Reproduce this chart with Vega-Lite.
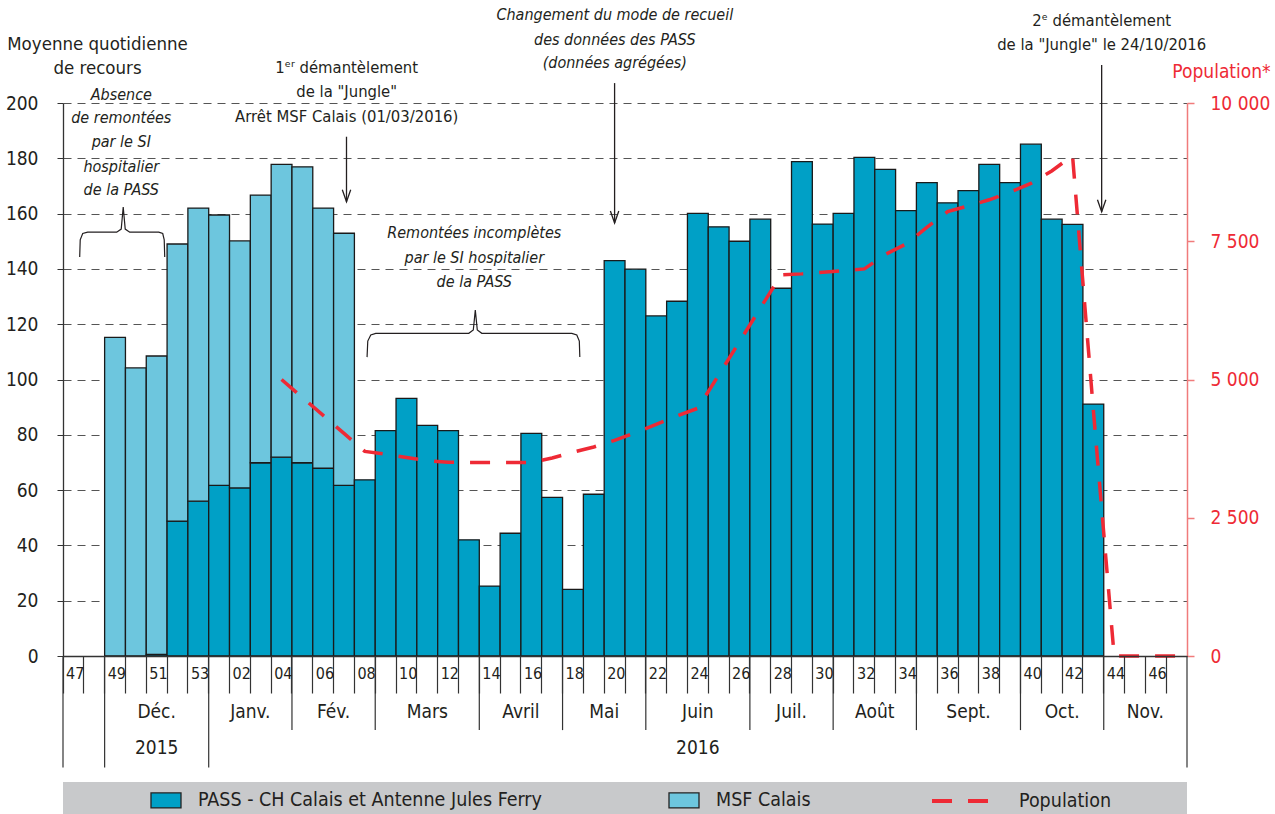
{
 "$schema": "https://vega.github.io/schema/vega-lite/v6.json",
 "width": 1124,
 "height": 553,
 "autosize": {"type": "none"},
 "padding": {"left": 63, "top": 103, "right": 88, "bottom": 158},
 "datasets": {
  "w": [
   {"k":"2015-47"},
   {"k":"2015-48"},
   {"k":"2015-49","msf":115.2},
   {"k":"2015-50","msf":104.2},
   {"k":"2015-51","pass":0.6,"msf":107.9},
   {"k":"2015-52","pass":48.8,"msf":100.2},
   {"k":"2015-53","pass":56.0,"msf":106.0},
   {"k":"2016-01","pass":61.7,"msf":97.8},
   {"k":"2016-02","pass":60.8,"msf":89.3},
   {"k":"2016-03","pass":69.9,"msf":96.8},
   {"k":"2016-04","pass":71.9,"msf":105.9,"pop":5000},
   {"k":"2016-05","pass":69.9,"msf":107.0,"pop":4675},
   {"k":"2016-06","pass":67.9,"msf":94.1,"pop":4350},
   {"k":"2016-07","pass":61.7,"msf":91.2,"pop":4025},
   {"k":"2016-08","pass":63.7,"pop":3700},
   {"k":"2016-09","pass":81.5,"pop":3650},
   {"k":"2016-10","pass":93.2,"pop":3590},
   {"k":"2016-11","pass":83.4,"pop":3530},
   {"k":"2016-12","pass":81.5,"pop":3505},
   {"k":"2016-13","pass":42.0,"pop":3500},
   {"k":"2016-14","pass":25.3,"pop":3500},
   {"k":"2016-15","pass":44.4,"pop":3500},
   {"k":"2016-16","pass":80.5,"pop":3500},
   {"k":"2016-17","pass":57.4,"pop":3580},
   {"k":"2016-18","pass":24.1,"pop":3685},
   {"k":"2016-19","pass":58.5,"pop":3780},
   {"k":"2016-20","pass":143.0,"pop":3900},
   {"k":"2016-21","pass":139.9,"pop":4040},
   {"k":"2016-22","pass":123.0,"pop":4190},
   {"k":"2016-23","pass":128.3,"pop":4340},
   {"k":"2016-24","pass":160.1,"pop":4480},
   {"k":"2016-25","pass":155.2,"pop":5080},
   {"k":"2016-26","pass":150.0,"pop":5685},
   {"k":"2016-27","pass":158.0,"pop":6290},
   {"k":"2016-28","pass":133.0,"pop":6890},
   {"k":"2016-29","pass":178.8,"pop":6910},
   {"k":"2016-30","pass":156.2,"pop":6940},
   {"k":"2016-31","pass":160.1,"pop":6970},
   {"k":"2016-32","pass":180.3,"pop":7000},
   {"k":"2016-33","pass":176.0,"pop":7260},
   {"k":"2016-34","pass":161.1,"pop":7450},
   {"k":"2016-35","pass":171.2,"pop":7750},
   {"k":"2016-36","pass":163.9,"pop":8035},
   {"k":"2016-37","pass":168.3,"pop":8140},
   {"k":"2016-38","pass":177.8,"pop":8250},
   {"k":"2016-39","pass":171.2,"pop":8390},
   {"k":"2016-40","pass":185.1,"pop":8545},
   {"k":"2016-41","pass":158.0,"pop":8770},
   {"k":"2016-42","pass":156.1,"pop":9050},
   {"k":"2016-43","pass":91.1,"pop":4450},
   {"k":"2016-44","pop":0},
   {"k":"2016-45","pop":0},
   {"k":"2016-46","pop":0},
   {"k":"2016-47","pop":0}
  ]
 },
 "layer": [
  {
   "data": {"name": "w"},
   "layer": [
    {
     "transform": [
      {"fold": ["pass", "msf"], "as": ["s", "v"]},
      {"filter": "isValid(datum.v)"}
     ],
     "mark": {"type": "bar", "stroke": "#1a1a1a", "strokeWidth": 1.3},
     "encoding": {
      "x": {
       "field": "k", "type": "ordinal",
       "scale": {"domain": ["2015-47","2015-48","2015-49","2015-50","2015-51","2015-52","2015-53","2016-01","2016-02","2016-03","2016-04","2016-05","2016-06","2016-07","2016-08","2016-09","2016-10","2016-11","2016-12","2016-13","2016-14","2016-15","2016-16","2016-17","2016-18","2016-19","2016-20","2016-21","2016-22","2016-23","2016-24","2016-25","2016-26","2016-27","2016-28","2016-29","2016-30","2016-31","2016-32","2016-33","2016-34","2016-35","2016-36","2016-37","2016-38","2016-39","2016-40","2016-41","2016-42","2016-43","2016-44","2016-45","2016-46","2016-47"], "paddingInner": 0, "paddingOuter": 0},
       "axis": {
        "orient": "bottom", "title": null, "bandPosition": 0, "zindex": 1,
        "tickSize": 37, "tickColor": "#333333", "tickWidth": 1.2,
        "domainColor": "#333333", "domainWidth": 1.3,
        "labelAlign": "left", "labelBaseline": "middle", "labelPadding": -20, "labelOffset": -7.4,
        "labelFontSize": 16, "labelColor": "#231f20", "labelAngle": 0,
        "labelOverlap": false, "labelFlush": false, "labelBound": false,
        "labelExpr": "((slice(datum.value,0,4) == '2015' && (+slice(datum.value,5)) % 2 == 1) || (slice(datum.value,0,4) == '2016' && (+slice(datum.value,5)) % 2 == 0)) ? slice(datum.value,5) : ''"
       }
      },
      "y": {
       "field": "v", "type": "quantitative", "stack": "zero",
       "scale": {"domain": [0, 200], "nice": false},
       "axis": {
        "orient": "left", "values": [0,20,40,60,80,100,120,140,160,180,200],
        "grid": true, "gridDash": [8, 6], "gridColor": "#555555", "gridWidth": 1.2,
        "tickSize": 6, "tickColor": "#333333", "domainColor": "#333333", "domainWidth": 1.3,
        "labelFontSize": 19, "labelColor": "#231f20", "labelPadding": 19,
        "title": ["Moyenne quotidienne", "de recours"],
        "titleAngle": 0, "titleAlign": "center", "titleBaseline": "top",
        "titleX": 34, "titleY": -69, "titleFontSize": 18.5, "titleFontWeight": "normal",
        "titleColor": "#231f20", "titleLineHeight": 24
       }
      },
      "color": {
       "field": "s", "type": "nominal",
       "scale": {"domain": ["pass", "msf"], "range": ["#00a0c6", "#6dc6de"]},
       "legend": {
        "orient": "none", "legendX": 87, "legendY": 681, "direction": "horizontal",
        "title": null, "padding": 0,
        "labelFontSize": 19.5, "labelColor": "#231f20", "labelOffset": 16, "labelLimit": 600,
        "symbolType": "M-1,-0.5H1V0.5H-1Z", "symbolSize": 900, "symbolStrokeColor": "#222222",
        "symbolStrokeWidth": 1.3, "symbolOpacity": 1, "columnPadding": 124,
        "labelExpr": "datum.value == 'pass' ? 'PASS - CH Calais et Antenne Jules Ferry' : 'MSF Calais'"
       }
      },
      "order": {"field": "s", "sort": "descending"}
     }
    },
    {
     "transform": [{"filter": "isValid(datum.pop)"}],
     "mark": {"type": "line", "color": "#ee2a35", "strokeWidth": 3.5},
     "encoding": {
      "x": {
       "field": "k", "type": "ordinal", "title": null,
       "scale": {"domain": ["2015-47","2015-48","2015-49","2015-50","2015-51","2015-52","2015-53","2016-01","2016-02","2016-03","2016-04","2016-05","2016-06","2016-07","2016-08","2016-09","2016-10","2016-11","2016-12","2016-13","2016-14","2016-15","2016-16","2016-17","2016-18","2016-19","2016-20","2016-21","2016-22","2016-23","2016-24","2016-25","2016-26","2016-27","2016-28","2016-29","2016-30","2016-31","2016-32","2016-33","2016-34","2016-35","2016-36","2016-37","2016-38","2016-39","2016-40","2016-41","2016-42","2016-43","2016-44","2016-45","2016-46","2016-47"], "paddingInner": 0, "paddingOuter": 0}
      },
      "y": {
       "field": "pop", "type": "quantitative",
       "scale": {"domain": [0, 10000], "nice": false},
       "axis": {
        "orient": "right", "values": [0, 2500, 5000, 7500, 10000],
        "labelExpr": "replace(format(datum.value, ','), ',', ' ')",
        "labelColor": "#ee2a35", "labelFontSize": 19, "labelAlign": "left", "labelPadding": 16,
        "tickSize": 7, "tickColor": "#f07b7b", "domainColor": "#f07b7b", "domainWidth": 1.5, "tickWidth": 1.5,
        "grid": false,
        "title": "Population*", "titleColor": "#ee2a35", "titleAngle": 0,
        "titleX": 34, "titleY": -32, "titleAlign": "center", "titleBaseline": "middle",
        "titleFontSize": 19, "titleFontWeight": "normal"
       }
      },
      "strokeDash": {
       "datum": "Population", "type": "nominal",
       "scale": {"domain": ["Population"], "range": [[20, 16]]},
       "legend": {
        "orient": "none", "legendX": 867, "legendY": 667.5, "title": null, "padding": 0,
        "labelFontSize": 19.5, "labelColor": "#231f20", "labelOffset": 28,
        "symbolType": "stroke", "symbolSize": 3249, "symbolStrokeWidth": 4,
        "symbolStrokeColor": "#ee2a35", "symbolOpacity": 1
       }
      }
     }
    }
   ],
   "resolve": {"scale": {"y": "independent"}}
  },
  {
   "layer": [
    {
     "data": {"values": [{}]},
     "mark": {"type": "rect", "color": "#c8c9cb"},
     "encoding": {
      "x": {"datum": 0, "type": "quantitative", "scale": {"domain": [0, 54], "nice": false, "zero": false}, "axis": null},
      "x2": {"datum": 54},
      "y": {"datum": -45.6, "type": "quantitative", "scale": {"domain": [0, 200], "nice": false, "zero": false}, "axis": null},
      "y2": {"datum": -60}
     }
    },
    {
     "data": {"values": [{"x": 0}, {"x": 2}, {"x": 7}, {"x": 54}]},
     "mark": {"type": "rule", "color": "#333333", "strokeWidth": 1.2},
     "encoding": {
      "x": {"field": "x", "type": "quantitative", "scale": {"domain": [0, 54], "nice": false, "zero": false}, "axis": null},
      "y": {"datum": 0, "type": "quantitative", "scale": {"domain": [0, 200], "nice": false, "zero": false}, "axis": null},
      "y2": {"datum": -40.3}
     }
    },
    {
     "data": {"values": [{"x": 11}, {"x": 15}, {"x": 20}, {"x": 24}, {"x": 28}, {"x": 33}, {"x": 37}, {"x": 41}, {"x": 46}, {"x": 50}]},
     "mark": {"type": "rule", "color": "#333333", "strokeWidth": 1.2},
     "encoding": {
      "x": {"field": "x", "type": "quantitative", "scale": {"domain": [0, 54], "nice": false, "zero": false}, "axis": null},
      "y": {"datum": 0, "type": "quantitative", "scale": {"domain": [0, 200], "nice": false, "zero": false}, "axis": null},
      "y2": {"datum": -26.8}
     }
    },
    {
     "data": {"values": [
      {"x": 4.5, "t": "Déc."}, {"x": 9, "t": "Janv."}, {"x": 13, "t": "Fév."}, {"x": 17.5, "t": "Mars"},
      {"x": 22, "t": "Avril"}, {"x": 26, "t": "Mai"}, {"x": 30.5, "t": "Juin"}, {"x": 35, "t": "Juil."},
      {"x": 39, "t": "Août"}, {"x": 43.5, "t": "Sept."}, {"x": 48, "t": "Oct."}, {"x": 52, "t": "Nov."}
     ]},
     "mark": {"type": "text", "fontSize": 19, "color": "#231f20", "align": "center", "baseline": "middle"},
     "encoding": {
      "x": {"field": "x", "type": "quantitative", "scale": {"domain": [0, 54], "nice": false, "zero": false}, "axis": null},
      "y": {"datum": -20.2, "type": "quantitative", "scale": {"domain": [0, 200], "nice": false, "zero": false}, "axis": null},
      "text": {"field": "t"}
     }
    },
    {
     "data": {"values": [{"x": 4.5, "t": "2015"}, {"x": 30.5, "t": "2016"}]},
     "mark": {"type": "text", "fontSize": 19, "color": "#231f20", "align": "center", "baseline": "middle"},
     "encoding": {
      "x": {"field": "x", "type": "quantitative", "scale": {"domain": [0, 54], "nice": false, "zero": false}, "axis": null},
      "y": {"datum": -33.4, "type": "quantitative", "scale": {"domain": [0, 200], "nice": false, "zero": false}, "axis": null},
      "text": {"field": "t"}
     }
    },
    {
     "data": {"values": [
      {"x": 13.63, "y": 212.5, "t": "1ᵉʳ démantèlement"},
      {"x": 13.63, "y": 204.1, "t": "de la \"Jungle\""},
      {"x": 13.63, "y": 195.0, "t": "Arrêt MSF Calais  (01/03/2016)"},
      {"x": 49.9, "y": 229.8, "t": "2ᵉ démantèlement"},
      {"x": 49.9, "y": 221.0, "t": "de la \"Jungle\" le 24/10/2016"}
     ]},
     "mark": {"type": "text", "fontSize": 16.5, "color": "#231f20", "align": "center", "baseline": "middle"},
     "encoding": {
      "x": {"field": "x", "type": "quantitative", "scale": {"domain": [0, 54], "nice": false, "zero": false}, "axis": null},
      "y": {"field": "y", "type": "quantitative", "scale": {"domain": [0, 200], "nice": false, "zero": false}, "axis": null},
      "text": {"field": "t"}
     }
    },
    {
     "data": {"values": [
      {"x": 2.8, "y": 202.9, "t": "Absence"},
      {"x": 2.8, "y": 194.5, "t": "de remontées"},
      {"x": 2.8, "y": 186.0, "t": "par le SI"},
      {"x": 2.8, "y": 177.0, "t": "hospitalier"},
      {"x": 2.8, "y": 168.5, "t": "de la PASS"},
      {"x": 19.76, "y": 152.9, "t": "Remontées incomplètes"},
      {"x": 19.76, "y": 143.9, "t": "par le SI hospitalier"},
      {"x": 19.76, "y": 135.3, "t": "de la PASS"},
      {"x": 26.51, "y": 231.8, "t": "Changement du mode de recueil"},
      {"x": 26.51, "y": 222.8, "t": "des données des PASS"},
      {"x": 26.51, "y": 214.5, "t": "(données agrégées)"}
     ]},
     "mark": {"type": "text", "fontSize": 16, "fontStyle": "italic", "color": "#231f20", "align": "center", "baseline": "middle"},
     "encoding": {
      "x": {"field": "x", "type": "quantitative", "scale": {"domain": [0, 54], "nice": false, "zero": false}, "axis": null},
      "y": {"field": "y", "type": "quantitative", "scale": {"domain": [0, 200], "nice": false, "zero": false}, "axis": null},
      "text": {"field": "t"}
     }
    },
    {
     "data": {"values": [
      {"x": 13.62, "y": 187.8, "y2": 164.3},
      {"x": 26.5, "y": 207.2, "y2": 156.6},
      {"x": 49.9, "y": 213.7, "y2": 160.7}
     ]},
     "layer": [
      {
       "mark": {"type": "rule", "color": "#231f20", "strokeWidth": 1.3},
       "encoding": {
        "x": {"field": "x", "type": "quantitative", "scale": {"domain": [0, 54], "nice": false, "zero": false}, "axis": null},
        "y": {"field": "y", "type": "quantitative", "scale": {"domain": [0, 200], "nice": false, "zero": false}, "axis": null},
        "y2": {"field": "y2"}
       }
      },
      {
       "mark": {"type": "point", "shape": "M-0.35,-1L0,0L0.35,-1", "size": 576, "filled": false, "color": "#231f20", "strokeWidth": 1.3, "opacity": 1},
       "encoding": {
        "x": {"field": "x", "type": "quantitative", "scale": {"domain": [0, 54], "nice": false, "zero": false}, "axis": null},
        "y": {"field": "y2", "type": "quantitative", "scale": {"domain": [0, 200], "nice": false, "zero": false}, "axis": null}
       }
      }
     ]
    },
    {
     "data": {"values": [
      {"b": 1, "o": 1, "x": 0.802, "y": 144.3},
      {"b": 1, "o": 2, "x": 0.827, "y": 150.5},
      {"b": 1, "o": 3, "x": 0.947, "y": 152.8},
      {"b": 1, "o": 4, "x": 1.187, "y": 153.3},
      {"b": 1, "o": 5, "x": 2.58, "y": 153.3},
      {"b": 1, "o": 6, "x": 2.797, "y": 154.4},
      {"b": 1, "o": 7, "x": 2.893, "y": 162.4},
      {"b": 1, "o": 8, "x": 2.989, "y": 154.4},
      {"b": 1, "o": 9, "x": 3.205, "y": 153.3},
      {"b": 1, "o": 10, "x": 4.599, "y": 153.3},
      {"b": 1, "o": 11, "x": 4.791, "y": 152.8},
      {"b": 1, "o": 12, "x": 4.863, "y": 150.5},
      {"b": 1, "o": 13, "x": 4.887, "y": 144.3},
      {"b": 2, "o": 1, "x": 14.608, "y": 108.1},
      {"b": 2, "o": 2, "x": 14.642, "y": 113.9},
      {"b": 2, "o": 3, "x": 14.786, "y": 116.1},
      {"b": 2, "o": 4, "x": 15.026, "y": 116.7},
      {"b": 2, "o": 5, "x": 19.495, "y": 116.7},
      {"b": 2, "o": 6, "x": 19.712, "y": 117.9},
      {"b": 2, "o": 7, "x": 19.808, "y": 125.1},
      {"b": 2, "o": 8, "x": 19.904, "y": 117.9},
      {"b": 2, "o": 9, "x": 20.12, "y": 116.7},
      {"b": 2, "o": 10, "x": 24.445, "y": 116.7},
      {"b": 2, "o": 11, "x": 24.685, "y": 116.1},
      {"b": 2, "o": 12, "x": 24.805, "y": 113.9},
      {"b": 2, "o": 13, "x": 24.829, "y": 108.1}
     ]},
     "mark": {"type": "line", "color": "#231f20", "strokeWidth": 1.2},
     "encoding": {
      "x": {"field": "x", "type": "quantitative", "scale": {"domain": [0, 54], "nice": false, "zero": false}, "axis": null},
      "y": {"field": "y", "type": "quantitative", "scale": {"domain": [0, 200], "nice": false, "zero": false}, "axis": null},
      "detail": {"field": "b", "type": "nominal"},
      "order": {"field": "o", "type": "quantitative"}
     }
    }
   ]
  }
 ],
 "resolve": {"scale": {"x": "independent", "y": "independent"}},
 "config": {
  "font": "Liberation Sans Narrow, DejaVu Sans Condensed, Roboto, sans-serif",
  "view": {"stroke": null}
 }
}
